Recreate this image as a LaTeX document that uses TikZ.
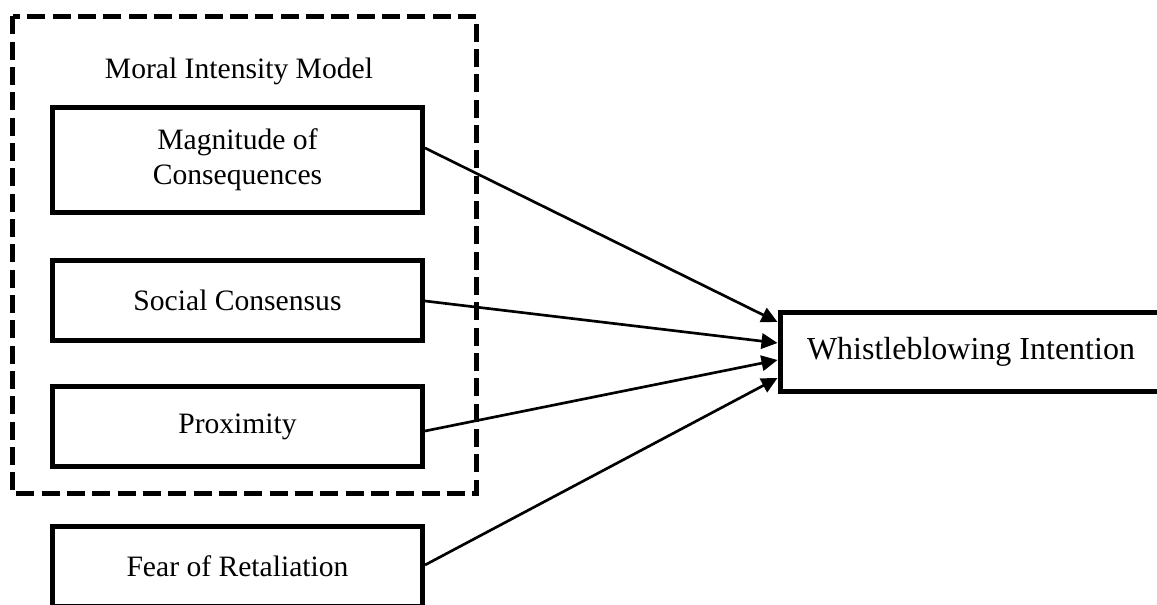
\documentclass[tikz,border=0pt]{standalone}
\usepackage{fontspec}
\setmainfont{Liberation Serif}
\usetikzlibrary{arrows.meta,calc}
\tikzset{
  fbox/.style={draw=black, line width=3.75pt, minimum width=277.5pt, minimum height=60pt, align=center, inner sep=0pt,
    font=\fontsize{22.2pt}{26.3pt}\selectfont},
  dashbox/.style={draw=black, line width=3.75pt, dash pattern=on 13.5pt off 5.5pt},
  conn/.style={line width=2pt, -{Triangle[length=12pt,width=11.5pt]}},
  lbl/.style={font=\fontsize{22.2pt}{26.3pt}\selectfont, inner sep=0pt}
}
\begin{document}
\begin{tikzpicture}[x=0.75pt,y=-0.75pt]
\useasboundingbox (0,0) rectangle (1157,605);
\clip (0,0) rectangle (1157,605);
\fill[white] (0,0) rectangle (1157,605);
% dashed group box
\coordinate (dtl) at (12.5,16.5);
\coordinate (dbr) at (476,494);
\draw[dashbox] (dtl) rectangle (dbr);
\node[lbl, anchor=base] (mim) at (239,78.5) {Moral Intensity Model};
% boxes
\node[fbox, minimum height=78.75pt] (mag) at (237.5,160) {Magnitude of\\Consequences};
\node[fbox] (soc) at (237.5,300.5) {Social Consensus};
\node[fbox] (prox) at (237.5,426.5) {Proximity};
\node[fbox] (fear) at (237.5,566.5) {Fear of Retaliation};
\node[fbox, minimum width=286.5pt, minimum height=59.25pt, font=\fontsize{24pt}{28pt}\selectfont] (wi) at (971,352) {Whistleblowing Intention};
% connectors
\draw[conn] ($(mag.east)+(0,-12)$) -- ($(wi.west)+(0,-30)$);
\draw[conn] ($(soc.east)+(0,0.5)$) -- ($(wi.west)+(0,-9)$);
\draw[conn] ($(prox.east)+(0,4.5)$) -- ($(wi.west)+(0,8)$);
\draw[conn] ($(fear.east)+(0,-1.5)$) -- ($(wi.west)+(0,26)$);
\end{tikzpicture}
\end{document}
